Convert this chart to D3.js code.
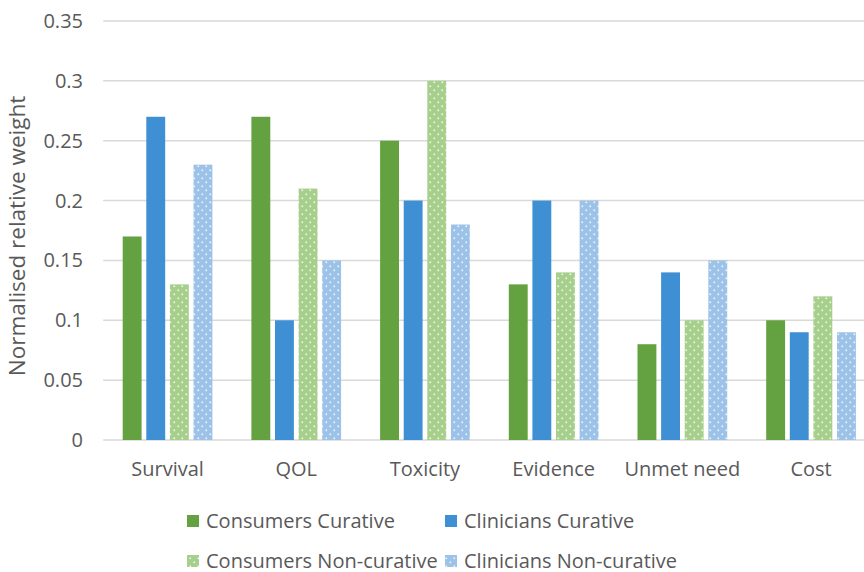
<!DOCTYPE html>
<html><head><meta charset="utf-8">
<script src="https://cdn.jsdelivr.net/npm/d3@7"></script>
<style>body{margin:0;background:#fff}svg{display:block}text{font-family:"Open Sans","Noto Sans",sans-serif;fill:#595959}</style>
</head><body><svg id="c" width="864" height="572"></svg>
<script>
const categories = ["Survival","QOL","Toxicity","Evidence","Unmet need","Cost"];
const seriesNames = ["Consumers Curative","Clinicians Curative","Consumers Non-curative","Clinicians Non-curative"];
const consumersCurative = [0.17,0.27,0.25,0.13,0.08,0.10];
const cliniciansCurative = [0.27,0.10,0.20,0.20,0.14,0.09];
const consumersNonCurative = [0.13,0.21,0.30,0.14,0.10,0.12];
const cliniciansNonCurative = [0.23,0.15,0.18,0.20,0.15,0.09];
const yTicks = [0,0.05,0.1,0.15,0.2,0.25,0.3,0.35];
const seriesValues = [consumersCurative,cliniciansCurative,consumersNonCurative,cliniciansNonCurative];
const colors = ["#64A140","#3F8FD4","#A6CF8C","#9CC2E8"];
const patterned = [false,false,true,true];

const svg = d3.select("#c");
const defs = svg.append("defs");
[2,3].forEach(i=>{
  const p = defs.append("pattern").attr("id","pat"+i).attr("patternUnits","userSpaceOnUse")
    .attr("width",8).attr("height",8);
  p.append("rect").attr("width",8).attr("height",8).attr("fill",colors[i]);
  p.append("rect").attr("x",1.5).attr("y",1.5).attr("width",1.6).attr("height",1.6).attr("fill","#fff").attr("opacity",0.85);
  p.append("rect").attr("x",5.5).attr("y",5.5).attr("width",1.6).attr("height",1.6).attr("fill","#fff").attr("opacity",0.85);
});
const fillOf = i => patterned[i] ? `url(#pat${i})` : colors[i];

const x0 = d3.scaleBand().domain(categories).range([103.2,875.4]).paddingInner(0).paddingOuter(0);
const x1 = d3.scaleBand().domain(d3.range(4)).range([19.5, x0.bandwidth()-19.5]).paddingInner(0.2);
const y = d3.scaleLinear().domain([0,0.35]).range([440,21]);

const g = svg.append("g");
g.selectAll("line.grid").data(yTicks).join("line")
  .attr("x1",103.2).attr("x2",875).attr("y1",d=>y(d)).attr("y2",d=>y(d))
  .attr("stroke","#d9d9d9").attr("stroke-width",1.5);

g.selectAll("text.yt").data(yTicks).join("text")
  .attr("x",83).attr("y",d=>y(d)).attr("dy","0.35em").attr("text-anchor","end")
  .attr("font-size",20).text(d=>d===0?"0":d3.format("")(+d.toFixed(2)));

categories.forEach((c,ci)=>{
  seriesValues.forEach((vals,si)=>{
    g.append("rect").attr("x",x0(c)+x1(si)).attr("width",x1.bandwidth())
      .attr("y",y(vals[ci])).attr("height",y(0)-y(vals[ci])).attr("fill",fillOf(si));
  });
});

g.selectAll("text.xt").data(categories).join("text")
  .attr("x",d=>x0(d)+x0.bandwidth()/2).attr("y",469).attr("dy","0.35em").attr("text-anchor","middle")
  .attr("font-size",20).text(d=>d);

svg.append("text").attr("transform","translate(17,236) rotate(-90)").attr("text-anchor","middle")
  .attr("dy","0.35em").attr("font-size",22.5).text("Normalised relative weight");

const legPos = [[187,521],[445,521],[187,561],[445,561]];
seriesNames.forEach((n,i)=>{
  const [lx,ly]=legPos[i];
  svg.append("rect").attr("x",lx).attr("y",ly-6).attr("width",12).attr("height",12).attr("fill",fillOf(i));
  svg.append("text").attr("x",lx+19).attr("y",ly).attr("dy","0.35em").attr("font-size",20).text(n);
});
</script></body></html>
